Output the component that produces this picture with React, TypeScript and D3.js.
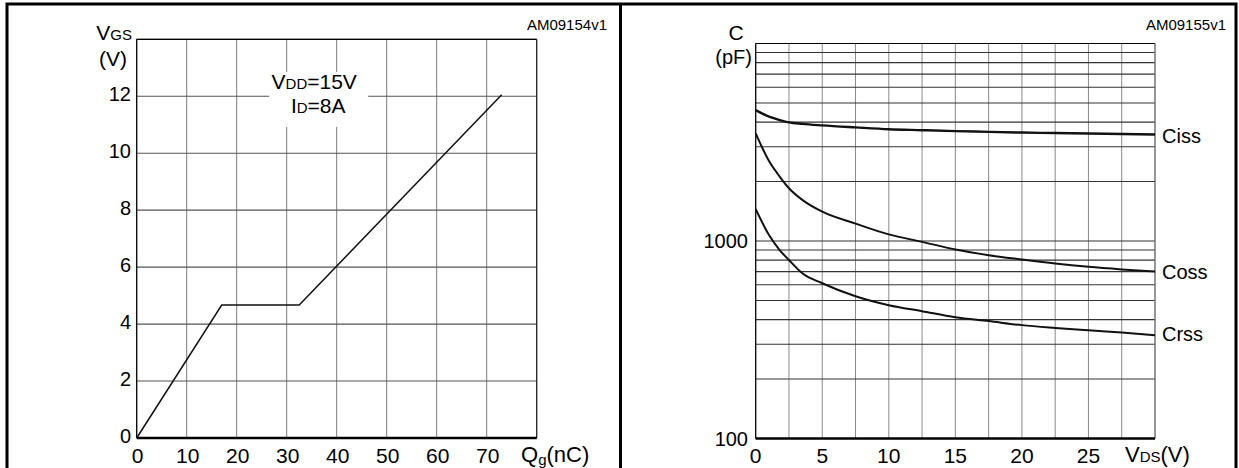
import React from 'react';
import * as d3 from 'd3';

// Gate charge (left panel)
const qgNc = [0, 17, 32.5, 73];
const vgsV = [0, 4.67, 4.67, 12.05];
const qgTicks = [0, 10, 20, 30, 40, 50, 60, 70];
const vgsTicks = [0, 2, 4, 6, 8, 10, 12];

// Capacitance variations (right panel)
const vdsV = [0, 1, 1.8, 2.5, 3.5, 5, 7.5, 10, 12.5, 15, 17.5, 20, 22.5, 25, 27.5, 30];
const cissPf = [4600, 4260, 4100, 3990, 3920, 3850, 3760, 3680, 3640, 3600, 3570, 3540, 3520, 3500, 3480, 3460];
const cossPf = [3510, 2540, 2120, 1850, 1615, 1407, 1225, 1080, 990, 906, 848, 806, 769, 740, 718, 700];
const crssPf = [1452, 1072, 900, 801, 686, 611, 525, 473, 441, 411, 393, 375, 363, 353, 344, 333];
const vdsTicks = [0, 5, 10, 15, 20, 25];
const capTicks = [100, 1000];

const FONT = '"Liberation Sans", Arial, Helvetica, sans-serif';

export default function App() {
  // left panel scales
  const gx = d3.scaleLinear().domain([0, 80]).range([136.7, 536.7]);
  const gy = d3.scaleLinear().domain([0, 14]).range([438, 39.3]);
  // right panel scales
  const cx = d3.scaleLinear().domain([0, 30]).range([755.7, 1155]);
  const cy = d3.scaleLog().domain([100, 10000]).range([438.5, 43.5]);

  const gateLine = d3
    .line<number>()
    .x(d => gx(d))
    .y((_, i) => gy(vgsV[i]));

  const capLine = (vals: number[]) =>
    d3
      .line<number>()
      .x(d => cx(d))
      .y((_, i) => cy(vals[i]))
      .curve(d3.curveMonotoneX)(vdsV) || '';

  const [gx0, gx1] = gx.range();
  const [gyB, gyT] = gy.range();
  const [cx0, cx1] = cx.range();
  const [cyB, cyT] = cy.range();

  const noteX = gx(35.5);

  return (
    <svg
      width={1239}
      height={468}
      style={{ position: 'absolute', left: 0, top: 0, background: '#fff' }}
      fontFamily={FONT}
    >
      <rect x={0} y={0} width={1239} height={468} fill="#fff" />

      {/* ---------- left: gate charge ---------- */}
      <g>
        {gx.ticks(8).map(t => (
          <line key={'gv' + t} x1={gx(t)} x2={gx(t)} y1={gyT} y2={gyB} stroke="#7a7a7a" strokeWidth={1} />
        ))}
        {gy.ticks(7).map(t => (
          <line key={'gh' + t} x1={gx0} x2={gx1} y1={gy(t)} y2={gy(t)} stroke="#555" strokeWidth={1.1} />
        ))}
        <line x1={gx0} x2={gx0} y1={gyT} y2={gyB} stroke="#000" strokeWidth={1.2} />
        <line x1={gx0} x2={gx1} y1={gyT} y2={gyT} stroke="#000" strokeWidth={1.2} />
        <line x1={gx1} x2={gx1} y1={gyT} y2={gyB} stroke="#222" strokeWidth={1.2} />
        <line x1={gx0} x2={gx1} y1={gyB} y2={gyB} stroke="#000" strokeWidth={2.6} />

        {/* condition note */}
        <rect x={noteX - 45} y={72} width={99} height={55} fill="#fff" />
        <text x={noteX} y={89} fontSize={21} textAnchor="middle">
          V<tspan fontSize={15}>DD</tspan>=15V
        </text>
        <text x={noteX + 4} y={113} fontSize={21} textAnchor="middle">
          I<tspan fontSize={15}>D</tspan>=8A
        </text>

        <path d={gateLine(qgNc) || ''} fill="none" stroke="#111" strokeWidth={1.5} />

        {vgsTicks.map(t => (
          <text key={'gyl' + t} x={131} y={gy(t) + 5} fontSize={20} textAnchor="end">
            {t}
          </text>
        ))}
        {qgTicks.map(t => (
          <text key={'gxl' + t} x={gx(t) + 1} y={463} fontSize={21} textAnchor="middle">
            {t}
          </text>
        ))}
        <text x={521} y={462} fontSize={22}>
          Q<tspan fontSize={15} dy={3}>g</tspan>
          <tspan dy={-3}>(nC)</tspan>
        </text>
        <text x={132} y={40} fontSize={21} textAnchor="end">
          V<tspan fontSize={15}>GS</tspan>
        </text>
        <text x={127} y={66} fontSize={21} textAnchor="end">
          (V)
        </text>
        <text x={607} y={30} fontSize={15} textAnchor="end">
          AM09154v1
        </text>
      </g>

      {/* ---------- right: capacitance ---------- */}
      <g>
        {d3.range(0, 30.01, 2.5).map(t => (
          <line key={'cv' + t} x1={cx(t)} x2={cx(t)} y1={cyT} y2={cyB} stroke="#8a8a8a" strokeWidth={1} />
        ))}
        {cy.ticks().map(t => (
          <line key={'ch' + t} x1={cx0} x2={cx1} y1={cy(t)} y2={cy(t)} stroke="#333" strokeWidth={1.1} />
        ))}
        <line x1={cx0} x2={cx0} y1={cyT} y2={cyB} stroke="#000" strokeWidth={1.2} />
        <line x1={cx0} x2={cx1} y1={cyT} y2={cyT} stroke="#000" strokeWidth={1.2} />
        <line x1={cx1} x2={cx1} y1={cyT} y2={cyB} stroke="#777" strokeWidth={1.2} />
        <line x1={cx0} x2={cx1} y1={cyB} y2={cyB} stroke="#000" strokeWidth={2.6} />

        <path d={capLine(cissPf)} fill="none" stroke="#111" strokeWidth={2.4} />
        <path d={capLine(cossPf)} fill="none" stroke="#111" strokeWidth={2} />
        <path d={capLine(crssPf)} fill="none" stroke="#111" strokeWidth={2} />

        <text x={1162} y={143} fontSize={20}>Ciss</text>
        <text x={1162} y={279} fontSize={20}>Coss</text>
        <text x={1162} y={341} fontSize={20}>Crss</text>

        {capTicks.map(t => (
          <text key={'cyl' + t} x={748} y={cy(t) + 7} fontSize={20} textAnchor="end">
            {t}
          </text>
        ))}
        {vdsTicks.map(t => (
          <text key={'cxl' + t} x={cx(t)} y={463} fontSize={21} textAnchor="middle">
            {t}
          </text>
        ))}
        <text x={1125} y={462} fontSize={22}>
          V<tspan fontSize={15}>DS</tspan>(V)
        </text>
        <text x={736} y={40} fontSize={21} textAnchor="middle">
          C
        </text>
        <text x={752} y={64} fontSize={20} textAnchor="end">
          (pF)
        </text>
        <text x={1226} y={30} fontSize={15} textAnchor="end">
          AM09155v1
        </text>
      </g>

      {/* panel frames */}
      <path
        d="M7,472 V4 H1236 V472 M620.5,4 V472"
        fill="none"
        stroke="#000"
        strokeWidth={3}
      />
    </svg>
  );
}
